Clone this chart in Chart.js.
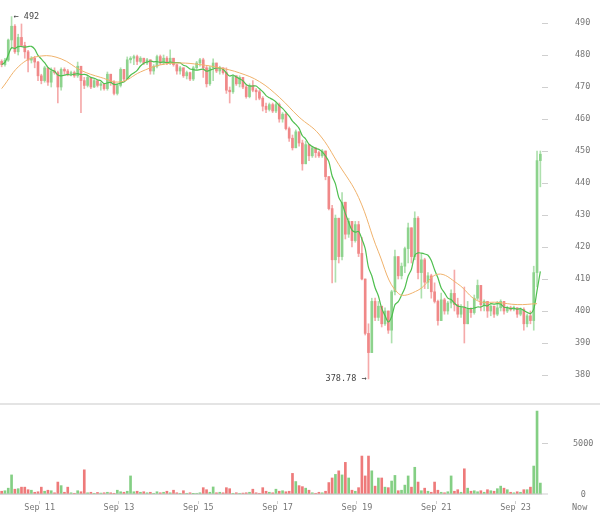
<!DOCTYPE html>
<html lang="en">
<head>
  <meta charset="UTF-8" />
  <title>Price and volume</title>
  <script src="https://cdn.jsdelivr.net/npm/chart.js"></script>
  <style>
    body {
      margin: 0;
      width: 600px;
      height: 514px;
      position: relative;
      overflow: hidden;
      background: #fff;
      font-family: 'DejaVu Sans Mono', monospace;
    }
    #priceChart { position: absolute; left: 0; top: 0; }
    .divider { position: absolute; left: 0; top: 403px; width: 600px; height: 2px; background: #e4e4e4; }
    #volumeChart { position: absolute; left: 0; top: 405px; }
    .now { position: absolute; left: 572px; top: 502px; font-size: 8.5px; line-height: 10px; color: #777; }
  </style>
</head>
<body>
  <canvas id="priceChart" width="600" height="403"></canvas>
  <div class="divider"></div>
  <canvas id="volumeChart" width="600" height="109"></canvas>
  <div class="now">Now</div>

  <script>
    // 2-hour candles, hours counted from Sep 10 00:00
    const firstHour = 1;
    const stepHours = 2;
    const firstOpen = 478;

    const closes = [
      477, 478.4, 484.7, 489, 481, 485.5, 483, 481, 478.4, 479,
      477.8, 473.5, 472, 476, 471.5, 475, 474.5, 470, 475.5, 475,
      474, 474.5, 473.5, 476.5, 472, 470.5, 473, 470, 472, 470.5,
      471, 469.5, 474, 471.5, 468, 470.5, 475.5, 472.5, 478.5, 479,
      479.5, 478, 479, 477.5, 478.5, 475, 476.5, 479.5, 477.5, 479,
      477.5, 479, 477, 475, 476, 473.5, 474.5, 472.5, 476, 477.5,
      478.5, 476, 471, 476, 477.5, 475, 476, 474.5, 469, 468.5,
      473.5, 471, 473, 470, 467, 470.5, 469, 468.5, 466.5, 464,
      463, 464.5, 462.5, 464.5, 460, 461.5, 457, 454, 451, 456,
      452.5, 446, 452, 448.5, 451, 449.5, 448.5, 450, 442, 432,
      416, 429, 417, 434, 424, 428, 422, 427, 418, 410,
      393, 387, 403, 398, 401.5, 396, 400, 394, 406, 417,
      411, 414, 419.5, 426, 417, 429, 412, 416, 409, 411,
      406, 403, 397, 403.5, 400, 402.5, 405.5, 402, 399, 401,
      396, 400.5, 399.5, 404, 408, 402, 403, 400, 401.5, 399,
      401, 403, 400, 401, 400.5, 401, 399, 400.5, 396, 398.5,
      397, 412, 447, 449
    ];
    const highs = [
      478.5, 479, 485, 492, 489.5, 486.5, 489.7, 484, 481.5, 479.5,
      479.6, 478, 474, 476.5, 476, 476, 476, 475, 476, 476,
      475.5, 475, 475, 477.8, 476.5, 473, 473.5, 473, 472.5, 472,
      471.5, 471, 474.7, 474, 472, 471, 476, 475.5, 479.4, 479.5,
      480, 480, 479.5, 479, 479, 478.5, 477, 480, 480, 480,
      479.5, 481.6, 479, 477, 476.5, 476, 475, 474.7, 476.5, 478,
      479, 479, 476.5, 476.5, 478.8, 477.5, 476.5, 476, 476, 470,
      473.8, 473.5, 473.5, 473, 470.6, 471, 472, 469.5, 469, 467,
      465, 465, 465, 465, 465, 462, 462, 457.5, 455, 456.6,
      456, 453.4, 453, 452, 451.5, 451, 450, 450.5, 450, 442,
      433, 430, 429, 437, 434, 429, 428, 428, 428, 423,
      410, 396, 404, 404, 403, 401.5, 401, 400, 406.5, 419,
      417, 415, 420, 427.5, 426, 431, 429.5, 418, 416.5, 412,
      411.5, 408.8, 403.4, 405.6, 404, 403, 406.6, 412.8, 404, 402,
      407.5, 403, 401, 405, 409.7, 408, 403.5, 403, 402, 401.5,
      403, 403.5, 403, 401.5, 401.5, 401.5, 401, 401, 401, 399,
      400, 414, 450, 450
    ];
    const lows = [
      476.3, 476.5, 478, 482, 480.5, 480, 482.5, 479, 474.7, 477.5,
      476, 472, 471, 471.5, 470.5, 470, 474, 465, 469, 474,
      473.5, 473.5, 473, 473, 462, 469.5, 470, 469.5, 469.8, 470,
      469, 469, 469, 470.5, 467.5, 467.5, 470, 472, 472.5, 477.5,
      477, 477, 477.5, 477, 477, 474, 474, 476, 477, 477,
      477, 477, 476.5, 474, 474, 473, 472.5, 472, 472, 475.5,
      476.5, 473, 470, 470.5, 472, 474.5, 474, 474, 468, 465,
      468, 470.5, 470, 469.5, 466.5, 466.6, 468.5, 466, 466, 462.5,
      462, 462.5, 462, 462, 459, 459, 456.6, 453, 450.3, 451,
      451.5, 444, 446, 447, 448, 448, 448, 448, 441, 431.6,
      408.8, 409, 415, 416, 422.5, 423, 420, 421.5, 417, 409.7,
      392.5, 378.78, 387, 397, 397, 395, 395.5, 393, 390, 405,
      410, 410, 412, 415, 415, 416, 410, 404, 407, 407,
      404, 402.5, 395.6, 397, 399, 399, 401, 400, 398, 398,
      390, 396, 398, 399, 403.4, 400, 400, 398, 398.5, 398,
      398.5, 400, 399, 399.5, 400, 400, 398, 398.5, 394, 395,
      396, 394, 407.5, 438.8
    ];
    const volumes = [
      300, 350, 600, 1900, 500, 550, 700, 700, 450, 400,
      200, 250, 700, 300, 400, 350, 150, 1200, 850, 200,
      700, 150, 100, 350, 250, 2400, 150, 200, 100, 180,
      120, 150, 200, 150, 100, 400, 250, 200, 300, 1800,
      250, 300, 200, 250, 150, 200, 100, 250, 150, 200,
      300, 150, 400, 150, 100, 350, 100, 150, 80, 100,
      150, 650, 450, 200, 720, 150, 200, 150, 650, 550,
      100, 150, 100, 120, 150, 200, 500, 150, 100, 650,
      300, 200, 150, 500, 300, 350, 250, 300, 2050, 1250,
      850, 750, 600, 400, 150, 100, 200, 150, 300, 1150,
      1600, 1950, 2300, 1900, 3130, 1600, 400, 300, 650, 3750,
      1800, 3750, 2300, 800, 1600, 1600, 700, 650, 1300, 1850,
      350, 400, 900, 1800, 700, 2650, 1200, 350, 600, 300,
      200, 1200, 400, 200, 150, 250, 1800, 300, 450, 200,
      2500, 600, 300, 350, 250, 350, 200, 450, 350, 300,
      550, 800, 600, 450, 200, 150, 250, 200, 450, 450,
      700, 2770, 8160, 1100
    ];

    // slow moving average, read every 12 hours
    const slowStep = 12;
    const slowMA = [
      469.5, 477.2, 479.7, 478.8, 475.2, 473, 471.6, 474.7, 476.9, 477.5,
      477, 476, 474.4, 471.7, 466.8, 460.6, 455.3, 445.8, 435.5, 418.5,
      405.5, 406.5, 411.5, 408.5, 403.2, 402.7, 402, 402.3
    ];
    const fastPeriod = 8;

    const priceTicks = [380, 390, 400, 410, 420, 430, 440, 450, 460, 470, 480, 490];
    const volumeTicks = [0, 5000];
    const dayHours = [24, 72, 120, 168, 216, 264, 312];
    const dayLabels = ['Sep 11', 'Sep 13', 'Sep 15', 'Sep 17', 'Sep 19', 'Sep 21', 'Sep 23'];

    const hourOf = i => firstHour + i * stepHours;
    const opens = closes.map((c, i) => i === 0 ? firstOpen : closes[i - 1]);
    const isUp = i => closes[i] >= opens[i];

    const fastMA = closes.map((c, i) => {
      const win = closes.slice(Math.max(0, i - fastPeriod + 1), i + 1);
      return { x: hourOf(i), y: win.reduce((a, b) => a + b, 0) / win.length };
    });

    const axisFont = { family: 'DejaVu Sans Mono', size: 8.5 };

    // fixed right axis; keep the chart area at full height
    const fitRightAxis = s => {
      s.width = 58;
      s.paddingTop = 0;
      s.paddingBottom = 0;
    };

    const extremesLabel = {
      id: 'extremesLabel',
      afterDatasetsDraw(chart) {
        const { ctx, scales: { x, y } } = chart;
        const hi = highs.indexOf(Math.max(...highs));
        const lo = lows.indexOf(Math.min(...lows));
        ctx.save();
        ctx.font = '8.5px "DejaVu Sans Mono"';
        ctx.fillStyle = '#444';
        ctx.textBaseline = 'middle';
        ctx.textAlign = 'left';
        ctx.fillText('← ' + highs[hi], x.getPixelForValue(hourOf(hi)) + 2, y.getPixelForValue(highs[hi]));
        ctx.textAlign = 'right';
        ctx.fillText(lows[lo] + ' →', x.getPixelForValue(hourOf(lo)) - 2, y.getPixelForValue(lows[lo]));
        ctx.restore();
      }
    };

    new Chart(document.getElementById('priceChart'), {
      type: 'bar',
      data: {
        datasets: [
          {
            type: 'line',
            data: slowMA.map((v, k) => ({ x: firstHour + k * slowStep, y: v })),
            borderColor: '#f0b26c',
            borderWidth: 1,
            pointRadius: 0,
            tension: 0.4,
            order: 0
          },
          {
            type: 'line',
            data: fastMA,
            borderColor: '#4fbf4f',
            borderWidth: 1.2,
            pointRadius: 0,
            tension: 0.3,
            order: 0
          },
          {
            data: closes.map((c, i) => ({ x: hourOf(i), y: [opens[i], c] })),
            backgroundColor: ctx => isUp(ctx.dataIndex) ? '#8dd38d' : '#f08888',
            barThickness: 2,
            minBarLength: 1,
            grouped: false,
            order: 1
          },
          {
            data: highs.map((h, i) => ({ x: hourOf(i), y: [lows[i], h] })),
            backgroundColor: ctx => isUp(ctx.dataIndex) ? '#aee0ae' : '#f5aaaa',
            barThickness: 1,
            grouped: false,
            order: 2
          }
        ]
      },
      options: {
        responsive: false,
        animation: false,
        layout: { padding: 0 },
        plugins: { legend: { display: false }, tooltip: { enabled: false } },
        scales: {
          x: { type: 'linear', min: 0, max: 328, offset: false, display: false },
          y: {
            position: 'right',
            min: 371.25,
            max: 497.19,
            afterBuildTicks: s => { s.ticks = priceTicks.map(v => ({ value: v })); },
            afterFit: fitRightAxis,
            grid: { drawOnChartArea: false, tickLength: 6, tickColor: '#cfcfcf', tickWidth: 1 },
            border: { display: false },
            ticks: { font: axisFont, color: '#777', crossAlign: 'center', padding: 27, callback: v => String(v) }
          }
        }
      },
      plugins: [extremesLabel]
    });

    new Chart(document.getElementById('volumeChart'), {
      type: 'bar',
      data: {
        datasets: [{
          data: volumes.map((v, i) => ({ x: hourOf(i), y: v })),
          backgroundColor: ctx => isUp(ctx.dataIndex) ? '#84cf84' : '#ee7a7a',
          barThickness: 2,
          grouped: false
        }]
      },
      options: {
        responsive: false,
        animation: false,
        layout: { padding: 0 },
        plugins: { legend: { display: false }, tooltip: { enabled: false } },
        scales: {
          x: {
            type: 'linear',
            min: 0,
            max: 328,
            offset: false,
            afterBuildTicks: s => { s.ticks = dayHours.map(v => ({ value: v })); },
            afterFit: s => { s.height = 13; },
            grid: { offset: false, drawOnChartArea: false, tickLength: 3, tickColor: '#cfcfcf' },
            border: { display: false },
            ticks: {
              callback: (v, i) => dayLabels[i],
              autoSkip: false,
              maxRotation: 0,
              font: axisFont,
              color: '#777',
              padding: -1
            }
          },
          y: {
            position: 'right',
            min: -657,
            max: 8755,
            afterBuildTicks: s => { s.ticks = volumeTicks.map(v => ({ value: v })); },
            afterFit: fitRightAxis,
            grid: {
              color: c => (c.tick && c.tick.value === 0) ? '#d6d6d6' : 'rgba(0,0,0,0)',
              lineWidth: c => (c.tick && c.tick.value === 0) ? 2 : 1,
              tickLength: 6,
              tickColor: '#cfcfcf',
              tickWidth: 1
            },
            border: { display: false },
            ticks: { font: axisFont, color: '#777', crossAlign: 'center', padding: 25, callback: v => String(v) }
          }
        }
      }
    });
  </script>
</body>
</html>
